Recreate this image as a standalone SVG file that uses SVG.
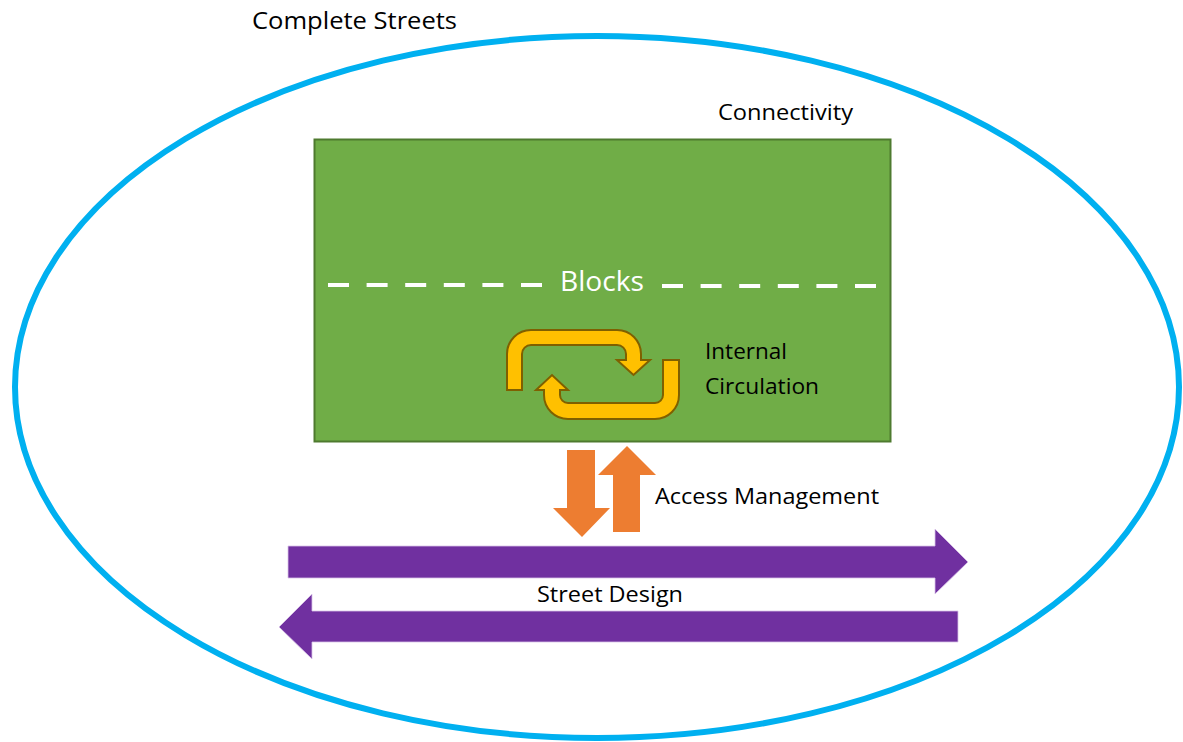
<svg xmlns="http://www.w3.org/2000/svg" width="1183" height="742" viewBox="0 0 1183 742">
<style>
.t{font-family:"Open Sans","Liberation Sans",sans-serif;fill:#000}
.circ{fill:#FFC000;stroke:#7F6000;stroke-width:2;stroke-linejoin:miter}
.orange{fill:#ED7D31}
.purple{fill:#7030A0;stroke:#D9C3E8;stroke-width:0.8}
</style>
<rect width="1183" height="742" fill="#fff"/>
<g id="complete-streets">
<ellipse cx="597" cy="387" rx="582" ry="351" fill="none" stroke="#00B0F0" stroke-width="6"/>
<text class="t" x="252" y="29" font-size="23" textLength="205" lengthAdjust="spacingAndGlyphs">Complete Streets</text>
</g>
<g id="connectivity">
<text class="t" x="718" y="120" font-size="22" textLength="135" lengthAdjust="spacingAndGlyphs">Connectivity</text>
</g>
<g id="blocks">
<rect x="314.5" y="139.5" width="576" height="302" fill="#70AD47" stroke="#4E7A2F" stroke-width="2"/>
<line x1="328" y1="285" x2="545" y2="285" stroke="#fff" stroke-width="4" stroke-dasharray="21 17.6"/>
<line x1="662" y1="286" x2="878" y2="286" stroke="#fff" stroke-width="4" stroke-dasharray="21 17.6"/>
<text x="560" y="291" font-family="Open Sans, Liberation Sans, sans-serif" font-size="28" fill="#fff" textLength="84" lengthAdjust="spacingAndGlyphs">Blocks</text>
</g>
<g id="internal-circulation">
<path class="circ" d="M507,390 V354 A24,24 0 0 1 531,330 H617 A24,24 0 0 1 641,354 V360 H650 L633.5,375 L617,360 H626 V354 A9,9 0 0 0 617,345 H531 A9,9 0 0 0 522,354 V390 Z"/>
<path class="circ" d="M679,360 V395 A24,24 0 0 1 655,419 H568 A24,24 0 0 1 544,395 V390 H536 L552,375 L568,390 H560 V395 A8,8 0 0 0 568,403 H655 A8,8 0 0 0 663,395 V360 Z"/>
<text class="t" x="705" y="359" font-size="22" textLength="82" lengthAdjust="spacingAndGlyphs">Internal</text>
<text class="t" x="705" y="394" font-size="22" textLength="114" lengthAdjust="spacingAndGlyphs">Circulation</text>
</g>
<g id="access-management">
<path class="orange" d="M567,450 H595 V508 H610 L582,537 L553,508 H567 Z"/>
<path class="orange" d="M613,532 H640 V475 H656 L627,446 L598,475 H613 Z"/>
<text class="t" x="655" y="504" font-size="22" textLength="224" lengthAdjust="spacingAndGlyphs">Access Management</text>
</g>
<g id="street-design">
<path class="purple" d="M288,546 H935 V529 L968,562 L935,594 V578 H288 Z"/>
<path class="purple" d="M958,611 H312 V594 L279,627 L312,659 V642 H958 Z"/>
<text class="t" x="537" y="602" font-size="22" textLength="146" lengthAdjust="spacingAndGlyphs">Street Design</text>
</g>
</svg>
